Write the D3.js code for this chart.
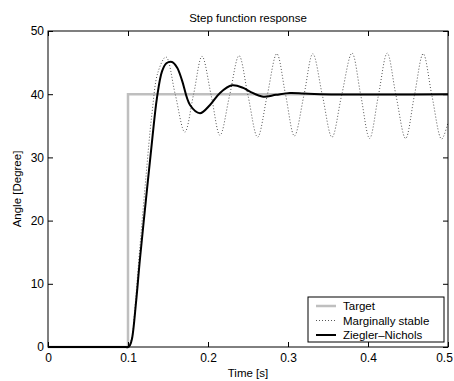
<!DOCTYPE html>
<html>
<head>
<meta charset="utf-8">
<script src="https://cdn.jsdelivr.net/npm/d3@7"></script>
<style>
  body { margin: 0; background: #fff; }
  svg { font-family: "Liberation Sans", Arial, sans-serif; }
</style>
</head>
<body>
<div id="chart"></div>
<script>
"use strict";

// values
const targetT = [0, 0.1, 0.1, 0.5];
const targetY = [0, 0, 40, 40];

const marginalT = [0, 0.095, 0.1, 0.105, 0.1075, 0.115, 0.1225, 0.13, 0.1375, 0.1475,
  0.159, 0.171, 0.182, 0.1925, 0.204, 0.215, 0.227, 0.2388, 0.25, 0.262, 0.274,
  0.286, 0.297, 0.308, 0.32, 0.331, 0.343, 0.355, 0.367, 0.38, 0.391, 0.402,
  0.413, 0.424, 0.435, 0.447, 0.458, 0.469, 0.48, 0.492, 0.5];
const marginalY = [0, 0, 0, 1.5, 4.5, 16, 27, 37, 43.5, 45.9,
  40, 34.0, 40, 46.0, 39.8, 33.5, 39.8, 46.1, 39.8, 33.2, 39.8,
  46.4, 39.9, 33.4, 39.9, 46.4, 39.8, 33.2, 39.8, 46.5, 39.8, 33.0,
  39.8, 46.5, 39.8, 33.0, 39.8, 46.4, 39.7, 32.9, 35.5];

const znT = [0, 0.095, 0.1, 0.1025, 0.105, 0.11, 0.115, 0.1225, 0.13, 0.1363, 0.1425,
  0.148, 0.155, 0.1615, 0.1675, 0.1775, 0.19, 0.2025, 0.215, 0.23, 0.244,
  0.2525, 0.269, 0.285, 0.3025, 0.32, 0.34, 0.5];
const znY = [0, 0, 0, 0.3, 1.3, 7.0, 14.0, 23.4, 32.5, 39.5, 43.6,
  44.9, 45.1, 44.2, 42.2, 38.3, 37.0, 38.3, 40.2, 41.4, 41.0,
  40.4, 39.6, 39.9, 40.2, 40.1, 40.0, 40.0];

const xTicks = [0, 0.1, 0.2, 0.3, 0.4, 0.5];
const yTicks = [0, 10, 20, 30, 40, 50];
const legendNames = ["Target", "Marginally stable", "Ziegler\u2013Nichols"];

const W = 454, H = 381;
const plotL = 48, plotR = 448, plotT = 31, plotB = 347;

const svg = d3.select("#chart").append("svg")
  .attr("width", W).attr("height", H);

const x = d3.scaleLinear().domain([0, 0.5]).range([plotL, plotR]);
const y = d3.scaleLinear().domain([0, 50]).range([plotB, plotT]);

const toPts = (ts, vs) => ts.map((t, i) => [t, vs[i]]);

// target step
svg.append("path")
  .datum(toPts(targetT, targetY))
  .attr("fill", "none")
  .attr("stroke", "#bfbfbf")
  .attr("stroke-width", 2.5)
  .attr("d", d3.line().x(d => x(d[0])).y(d => y(d[1])));

// marginally stable (dotted)
svg.append("path")
  .datum(toPts(marginalT, marginalY))
  .attr("fill", "none")
  .attr("stroke", "#555")
  .attr("stroke-width", 1)
  .attr("stroke-dasharray", "1,2")
  .attr("d", d3.line().curve(d3.curveCatmullRom.alpha(0.5)).x(d => x(d[0])).y(d => y(d[1])));

// Ziegler-Nichols
svg.append("path")
  .datum(toPts(znT, znY))
  .attr("fill", "none")
  .attr("stroke", "#000")
  .attr("stroke-width", 2)
  .attr("d", d3.line().curve(d3.curveCatmullRom.alpha(0.5)).x(d => x(d[0])).y(d => y(d[1])));

// axes box
svg.append("rect")
  .attr("x", plotL).attr("y", plotT)
  .attr("width", plotR - plotL).attr("height", plotB - plotT)
  .attr("fill", "none").attr("stroke", "#000").attr("stroke-width", 1);

const tickLen = 5;
svg.append("g").attr("transform", `translate(0,${plotB})`)
  .call(d3.axisBottom(x).tickValues(xTicks).tickSizeInner(-tickLen).tickSizeOuter(0)
    .tickPadding(6).tickFormat(d => d === 0 ? "0" : d3.format(".1f")(d)))
  .call(g => g.select(".domain").remove())
  .call(g => g.selectAll(".tick text").filter(d => d === 0.5).attr("dx", -4));
svg.append("g").attr("transform", `translate(0,${plotT})`)
  .call(d3.axisTop(x).tickValues(xTicks).tickSizeInner(-tickLen).tickSizeOuter(0).tickFormat(""))
  .call(g => g.select(".domain").remove());
svg.append("g").attr("transform", `translate(${plotL},0)`)
  .call(d3.axisLeft(y).tickValues(yTicks).tickSizeInner(-tickLen).tickSizeOuter(0).tickPadding(4))
  .call(g => g.select(".domain").remove());
svg.append("g").attr("transform", `translate(${plotR},0)`)
  .call(d3.axisRight(y).tickValues(yTicks).tickSizeInner(-tickLen).tickSizeOuter(0).tickFormat(""))
  .call(g => g.select(".domain").remove());

svg.selectAll(".tick text")
  .attr("font-size", 12).attr("fill", "#000")
  .attr("font-family", "Liberation Sans, Arial, sans-serif");
svg.selectAll(".tick line").attr("stroke", "#000");

// title and labels
svg.append("text").attr("x", (plotL + plotR) / 2).attr("y", 22)
  .attr("text-anchor", "middle").attr("font-size", 11.5).text("Step function response");
svg.append("text").attr("x", (plotL + plotR) / 2).attr("y", 377)
  .attr("text-anchor", "middle").attr("font-size", 11.5).text("Time [s]");
svg.append("text")
  .attr("transform", `translate(21,${(plotT + plotB) / 2}) rotate(-90)`)
  .attr("text-anchor", "middle").attr("font-size", 11.5).text("Angle [Degree]");

// legend
const lg = svg.append("g").attr("transform", "translate(308,297)");
lg.append("rect").attr("width", 136).attr("height", 45)
  .attr("fill", "#fff").attr("stroke", "#000").attr("stroke-width", 1);
const styles = [
  { stroke: "#bfbfbf", w: 2.5, dash: null },
  { stroke: "#555", w: 1, dash: "1,2" },
  { stroke: "#000", w: 2, dash: null }
];
legendNames.forEach((name, i) => {
  const yy = 9 + i * 14.5;
  lg.append("line").attr("x1", 8).attr("x2", 28).attr("y1", yy).attr("y2", yy)
    .attr("stroke", styles[i].stroke).attr("stroke-width", styles[i].w)
    .attr("stroke-dasharray", styles[i].dash);
  lg.append("text").attr("x", 35).attr("y", yy + 4).attr("font-size", 11.5).text(name);
});
</script>
</body>
</html>
